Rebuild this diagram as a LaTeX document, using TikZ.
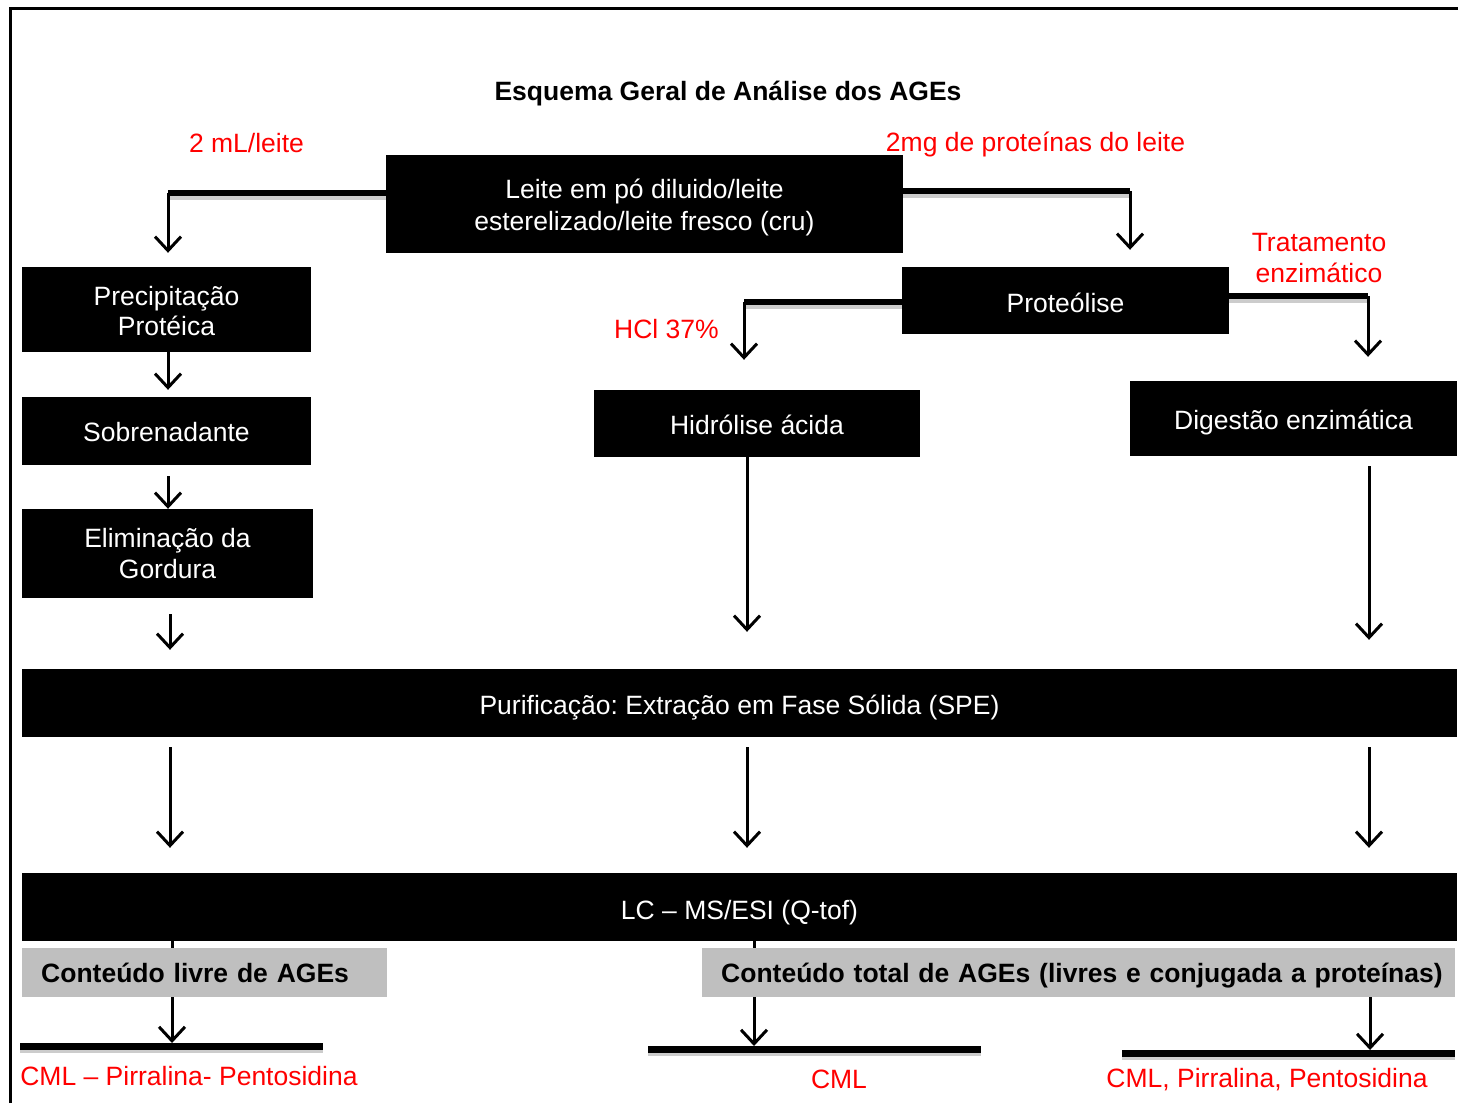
\documentclass[tikz,border=0pt]{standalone}
\usepackage{fontspec}
\setmainfont{Liberation Sans}
\usetikzlibrary{arrows.meta}
\frenchspacing

% desce o texto sem mudar a caixa
\newcommand{\baixo}[2]{\raisebox{-#1}[\height][\depth]{#2}}

\begin{document}
\begin{tikzpicture}[x=1pt,y=-1pt,
	etapa/.style={fill=black, text=white, inner sep=0pt, align=center, font=\fontsize{26.5}{32}\selectfont},
	resultado/.style={fill=black!25, text=black, inner xsep=19pt, inner ysep=0pt, align=left, anchor=west, minimum height=49pt, font=\fontsize{26.5}{32}\selectfont\bfseries},
	nota/.style={text=red, inner sep=0pt, align=center, font=\fontsize{26.5}{31}\selectfont},
	seta/.style={line width=3pt, line join=round, -{Straight Barb[length=14pt,width=26pt,line width=3pt]}},
	barra/.style={line width=6pt, preaction={draw=black!20, line width=6pt, transform canvas={yshift=-4pt}}},
	]

	\useasboundingbox (0,0) rectangle (1458,1103);

	% Moldura
	\draw [line width=3pt] (10,1103) -- (10,8) -- (1458,8);

	% Titulo
	\node [font=\fontsize{26.5}{32}\selectfont\bfseries] (titulo) at (728,94) {Esquema Geral de Análise dos AGEs};

	% Etapas
	\node [etapa, minimum width=517pt, minimum height=98pt] (leite) at (644.5,204) {\baixo{3pt}{Leite em pó diluido/leite}\\\baixo{3pt}{esterelizado/leite fresco (cru)}};
	\node [etapa, minimum width=289pt, minimum height=85pt, font=\fontsize{26.5}{30}\selectfont] (precip) at (166.5,309.5) {\baixo{2pt}{Precipitação}\\\baixo{2pt}{Protéica}};
	\node [etapa, minimum width=289pt, minimum height=68pt] (sobre) at (166.5,431) {\baixo{1pt}{Sobrenadante}};
	\node [etapa, minimum width=291pt, minimum height=89pt] (elim) at (167.5,553.5) {\baixo{1pt}{Eliminação da}\\Gordura};
	\node [etapa, minimum width=327pt, minimum height=67pt] (proteo) at (1065.5,300.5) {\baixo{2pt}{Proteólise}};
	\node [etapa, minimum width=326pt, minimum height=67pt] (hidro) at (757,423.5) {\baixo{1pt}{Hidrólise ácida}};
	\node [etapa, minimum width=327pt, minimum height=75pt] (diges) at (1293.5,418.5) {\baixo{4pt}{Digestão enzimática}};
	\node [etapa, minimum width=1435pt, minimum height=68pt] (purif) at (739.5,703) {\baixo{5pt}{Purificação: Extração em Fase Sólida (SPE)}};
	\node [etapa, minimum width=1435pt, minimum height=68pt] (lcms) at (739.5,907) {\baixo{6pt}{LC -- MS/ESI (Q-tof)}};

	% Notas
	\node [nota] (ml) at (246.5,143) {2 mL/leite};
	\node [nota] (mg) at (1035.5,144) {2mg de proteínas do leite};
	\node [nota] (hcl) at (666.5,329) {HCl 37\%};
	\node [nota] (trat) at (1319,258) {Tratamento\\enzimático};

	% Colunas
	\coordinate (colA) at (170,0);
	\coordinate (colB) at (747,0);
	\coordinate (colC) at (1369,0);

	% Ramos
	\coordinate (c1) at (168,193);
	\coordinate (c2) at (1130,191);
	\coordinate (c3) at (744,302);
	\coordinate (c4) at (1368,296);
	\draw [barra] (leite.west |- c1) -- (c1);
	\draw [barra] (leite.east |- c2) -- (c2);
	\draw [barra] (proteo.west |- c3) -- (c3);
	\draw [barra] (proteo.east |- c4) -- (c4);
	\draw [seta] (c1) -- ([yshift=14pt]precip.north -| c1);
	\draw [seta] (c2) -- ([yshift=17pt]proteo.north -| c2);
	\draw [seta] (c3) -- ([yshift=30pt]hidro.north -| c3);
	\draw [seta] (c4) -- ([yshift=24pt]diges.north -| c4);

	% Setas verticais
	\draw [seta] ([xshift=1.5pt]precip.south) -- ([xshift=1.5pt,yshift=7pt]sobre.north);
	\draw [seta] ([xshift=1.5pt,yshift=-11pt]sobre.south) -- ([xshift=0.5pt]elim.north);
	\draw [seta] ([yshift=-16pt]elim.south -| colA) -- ([yshift=19pt]purif.north -| colA);
	\draw [seta] (hidro.south -| colB) -- ([yshift=37pt]purif.north -| colB);
	\draw [seta] ([yshift=-10pt]diges.south -| colC) -- ([yshift=29pt]purif.north -| colC);
	\foreach \c in {colA,colB,colC}
		\draw [seta] ([yshift=-10pt]purif.south -| \c) -- ([yshift=25pt]lcms.north -| \c);

	% Resultados
	\coordinate (b1) at (172,1046);
	\coordinate (b2) at (754,1049);
	\coordinate (b3) at (1370,1053);
	\draw [barra, line width=7pt] (20,1046) -- (323,1046);
	\draw [barra, line width=7pt] (648,1049) -- (981,1049);
	\draw [barra, line width=7pt] (1122,1053) -- (1455,1053);
	\draw [seta] (lcms.south -| b1) -- ([yshift=3pt]b1);
	\draw [seta] (lcms.south -| b2) -- ([yshift=3pt]b2);

	\node [resultado, text width=327pt] (livre) at (22,972.5) {\mbox{Conteúdo livre de AGEs}};
	\node [resultado, text width=715pt] (total) at (702,972.5) {\mbox{\baixo{3pt}{Conteúdo total de AGEs (livres e conjugada a proteínas)}}};
	\draw [seta] (total.south -| b3) -- ([yshift=3pt]b3);

	% Compostos
	\node [nota] (r1) at (189,1076) {CML -- Pirralina- Pentosidina};
	\node [nota] (r2) at (839,1079) {CML};
	\node [nota] (r3) at (1267,1080) {CML, Pirralina, Pentosidina};

\end{tikzpicture}
\end{document}
